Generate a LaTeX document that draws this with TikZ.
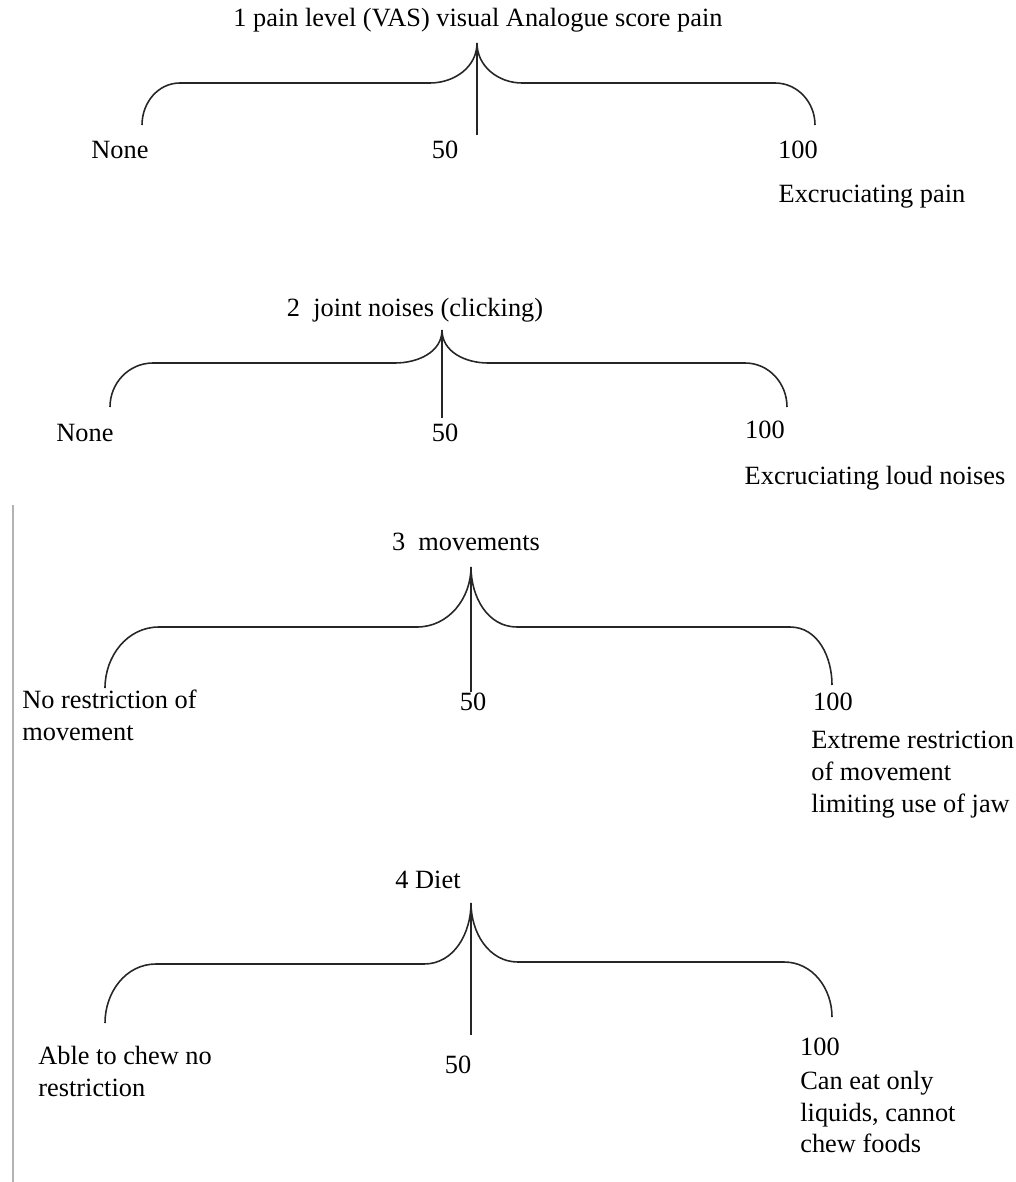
\documentclass[tikz,border=0pt]{standalone}
\usepackage{fontspec}
\setmainfont{Liberation Serif}
\usepackage{tikz}
\usetikzlibrary{positioning}

\tikzset{
  brace/.style={line width=0.9pt, black!85},
  lbl/.style={font=\fontsize{15}{18}\selectfont, inner sep=0pt},
  note/.style={lbl, align=left, anchor=north west},
}

\begin{document}
\begin{tikzpicture}[x=0.02cm,y=-0.02cm]
        \useasboundingbox (0,0) rectangle (1016,1182);
        \draw[gray!60, line width=1.3pt] (13,505) -- (13,1182);

        % 1 pain level
        \coordinate (l1) at (142,125);
        \coordinate (a1) at (180,83);
        \coordinate (b1) at (430,83);
        \coordinate (p1) at (477,43);
        \coordinate (c1) at (522,83);
        \coordinate (d1) at (775,83);
        \coordinate (r1) at (815,125);
        \coordinate (v1) at (477,135);
        \draw[brace] (l1) to[out=90,in=180] (a1) -- (b1) to[out=0,in=-90] (p1)
                to[out=-90,in=180] (c1) -- (d1) to[out=0,in=90] (r1);
        \draw[brace] (p1) -- (v1);
        \node[lbl] (t1) at (478,20) {1 pain level (VAS) visual Analogue score pain};
        \node[lbl] (none1) at (120,150) {None};
        \node[lbl] (mid1) at (445,150) {50};
        \node[lbl] (max1) at (798,150) {100};
        \node[lbl] (ex1) at (872,197) {Excruciating pain};

        % 2 joint noises
        \coordinate (l2) at (110,407);
        \coordinate (a2) at (153,363);
        \coordinate (b2) at (395,363);
        \coordinate (p2) at (442,330);
        \coordinate (c2) at (488,363);
        \coordinate (d2) at (745,363);
        \coordinate (r2) at (787,407);
        \coordinate (v2) at (442,418);
        \draw[brace] (l2) to[out=90,in=180] (a2) -- (b2) to[out=0,in=-90] (p2)
                to[out=-90,in=180] (c2) -- (d2) to[out=0,in=90] (r2);
        \draw[brace] (p2) -- (v2);
        \node[lbl] (t2) at (415,310) {2~ joint noises (clicking)};
        \node[lbl] (none2) at (85,433) {None};
        \node[lbl] (mid2) at (445,433) {50};
        \node[lbl] (max2) at (765,430) {100};
        \node[lbl] (ex2) at (875,478) {Excruciating loud noises};

        % 3 movements
        \coordinate (l3) at (105,688);
        \coordinate (a3) at (159,627);
        \coordinate (b3) at (417,627);
        \coordinate (p3) at (471,567);
        \coordinate (c3) at (517,627);
        \coordinate (d3) at (790,627);
        \coordinate (r3) at (832,685);
        \coordinate (v3) at (471,692);
        \draw[brace] (l3) to[out=90,in=180] (a3) -- (b3) to[out=0,in=-90] (p3)
                to[out=-90,in=180] (c3) -- (d3) to[out=0,in=90] (r3);
        \draw[brace] (p3) -- (v3);
        \node[lbl] (t3) at (466,542) {3~ movements};
        \node[note] (none3) at (22,690) {No restriction of\\movement};
        \node[lbl] (mid3) at (473,702) {50};
        \node[lbl] (max3) at (833,702) {100};
        \node[note] (ex3) at (811,731) {Extreme restriction\\of movement\\limiting use of jaw};

        % 4 diet
        \coordinate (l4) at (105,1023);
        \coordinate (a4) at (156,964);
        \coordinate (b4) at (424,964);
        \coordinate (p4) at (471,903);
        \coordinate (c4) at (518,962);
        \coordinate (d4) at (784,962);
        \coordinate (r4) at (832,1017);
        \coordinate (v4) at (471,1035);
        \draw[brace] (l4) to[out=90,in=180] (a4) -- (b4) to[out=0,in=-90] (p4)
                to[out=-90,in=180] (c4) -- (d4) to[out=0,in=90] (r4);
        \draw[brace] (p4) -- (v4);
        \node[lbl] (t4) at (428,880) {4 Diet};
        \node[note] (none4) at (38,1046) {Able to chew no\\restriction};
        \node[lbl] (mid4) at (458,1065) {50};
        \node[lbl] (max4) at (820,1047) {100};
        \node[note] (ex4) at (800,1071) {Can eat only\\liquids, cannot\\chew foods};
\end{tikzpicture}
\end{document}
